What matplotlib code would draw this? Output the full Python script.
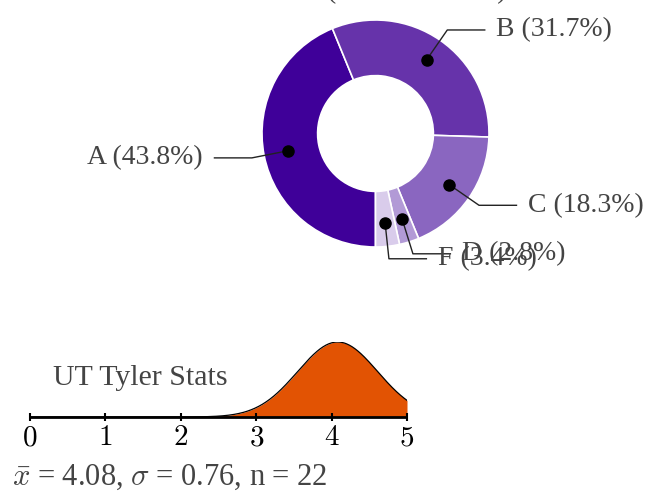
import numpy as np
import matplotlib

matplotlib.use("Agg")
import matplotlib.pyplot as plt

# grade shares for the donut (clockwise from the bottom)
grades = ["A", "B", "C", "D", "F"]
shares = [43.8, 31.7, 18.3, 2.8, 3.4]
grade_colors = ["#3f0099", "#6633aa", "#8a66c0", "#b29ad6", "#d9cceb"]

# summary stats shown under the distribution
mean_score = 4.08
sd_score = 0.76
n_responses = 22
curve_sd = 0.53  # spread of the drawn curve
score_ticks = [0, 1, 2, 3, 4, 5]

TEXT_GRAY = "#444444"
ORANGE = "#e25303"

plt.rcParams["font.family"] = "serif"
plt.rcParams["font.serif"] = ["Liberation Serif", "DejaVu Serif"]
plt.rcParams["mathtext.fontset"] = "cm"

W, H = 658, 494
fig = plt.figure(figsize=(W / 100, H / 100), dpi=100)


def px_box(left, top, width, height):
    return [left / W, 1 - (top + height) / H, width / W, height / H]


# ---- donut ----
ax = fig.add_axes(px_box(262, 20, 227, 227))
wedges, _ = ax.pie(
    shares,
    colors=grade_colors,
    startangle=270,
    counterclock=False,
    radius=1,
    wedgeprops=dict(width=0.49, edgecolor="white", linewidth=1.2),
)
ax.set_xlim(-1, 1)
ax.set_ylim(-1, 1)
ax.axis("off")

for wedge, grade, share in zip(wedges, grades, shares):
    theta = np.deg2rad((wedge.theta1 + wedge.theta2) / 2)
    dot = np.array([np.cos(theta), np.sin(theta)]) * 0.79
    elbow = np.array([np.cos(theta), np.sin(theta)]) * 1.11
    side = 1 if np.cos(theta) >= 0 else -1
    end = elbow + np.array([side * 0.33, 0])
    ax.plot([dot[0], elbow[0], end[0]], [dot[1], elbow[1], end[1]],
            color="#222222", lw=1.0, clip_on=False, zorder=3)
    ax.plot(dot[0], dot[1], "o", color="black", ms=8, clip_on=False, zorder=4)
    ax.text(end[0] + side * 0.1, end[1], f"{grade} ({share}%)",
            ha="left" if side > 0 else "right", va="center",
            fontsize=20, color=TEXT_GRAY, clip_on=False)

# title above the donut, mostly off the top of the canvas
fig.text(327 / W, 1 + 2 / H, "(" + " " * 23 + ")", ha="left", va="baseline",
         fontsize=20, color=TEXT_GRAY)

# ---- distribution strip ----
bx = fig.add_axes(px_box(30, 342, 377, 75))
xs = np.linspace(score_ticks[0], score_ticks[-1], 400)
ys = np.exp(-0.5 * ((xs - mean_score) / curve_sd) ** 2)
bx.fill_between(xs, 0, ys, color=ORANGE, lw=0)
bx.plot(xs, ys, color="black", lw=0.9)
bx.set_xlim(score_ticks[0], score_ticks[-1])
bx.set_ylim(0, ys.max())
for name in ["top", "left", "right"]:
    bx.spines[name].set_visible(False)
bx.spines["bottom"].set_linewidth(2)
bx.spines["bottom"].set_capstyle("butt")
bx.set_yticks([])
bx.set_xticks(score_ticks, [f"${t}$" for t in score_ticks])
bx.tick_params(axis="x", direction="inout", length=6, width=1.5, pad=3,
               labelsize=21, colors="black")
bx.patch.set_alpha(0)

fig.text(53 / W, 1 - 385 / H, "UT Tyler Stats", ha="left", va="baseline",
         fontsize=21.5, color=TEXT_GRAY)
fig.text(12 / W, 1 - 485 / H,
         rf"$\bar{{x}}$ = {mean_score}, $\sigma$ = {sd_score}, n = {n_responses}",
         ha="left", va="baseline", fontsize=22, color=TEXT_GRAY)

fig.savefig("out.png", dpi=100)
